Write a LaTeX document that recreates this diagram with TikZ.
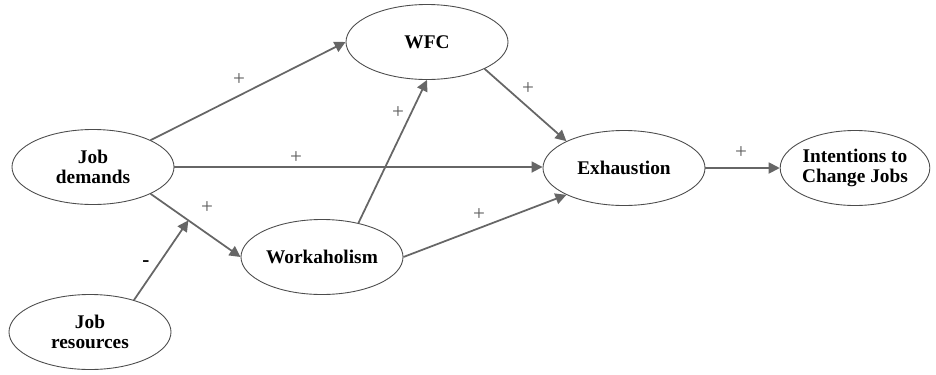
\documentclass[tikz,border=0pt]{standalone}
\usepackage{fontspec}
\setmainfont{Liberation Serif}
\usepackage{tikz}
\usetikzlibrary{shapes.geometric,arrows.meta,calc}

\tikzset{
    var/.style={ellipse,draw=black!70,line width=0.5pt,minimum width=3.24cm,minimum height=1.5cm,
        inner sep=0pt,align=center,font=\bfseries\fontsize{11}{11.6}\selectfont},
    path/.style={draw=black!60,line width=1pt,-{Triangle[length=2.2mm,width=2.2mm]}},
    sign/.style={text=black!65,font=\fontsize{12}{12}\selectfont,inner sep=0pt}
}

\begin{document}
\begin{tikzpicture}[x=0.2mm,y=-0.2mm]
    \useasboundingbox (0,0) rectangle (936,374);

    % variables
    \node[var] (dem) at (93,167) {Job\\demands};
    \node[var] (res) at (90,332) {Job\\resources};
    \node[var] (wfc) at (427,42) {WFC};
    \node[var] (wor) at (322,257) {Workaholism};
    \node[var] (exh) at (624,168) {Exhaustion};
    \node[var,minimum width=2.96cm] (itc) at (855,168) {Intentions to\\Change Jobs};

    % paths
    \draw[path] (dem.north east) -- (wfc.west);
    \draw[path] (dem.east) -- (exh.west |- dem.east);
    \draw[path] (dem.south east) -- (wor.west);
    \coordinate (mod) at ($(dem.south east)!0.42!(wor.west)$);
    \draw[path] (res.36) -- (mod);
    \draw[path] (wor.43) -- (wfc.south);
    \draw[path] (wfc.south east) -- (exh.north west);
    \draw[path] (wor.east) -- (exh.south west);
    \draw[path] (exh.east) -- (itc.west);

    % signs
    \node[sign] (s1) at (239,80) {+};
    \node[sign] (s2) at (296,158) {+};
    \node[sign] (s3) at (207,208) {+};
    \node[sign,text=black,font=\bfseries\fontsize{12}{12}\selectfont] (s4) at (146,264) {-};
    \node[sign] (s5) at (398,113) {+};
    \node[sign] (s6) at (528,89) {+};
    \node[sign] (s7) at (479,215) {+};
    \node[sign] (s8) at (741,153) {+};
\end{tikzpicture}
\end{document}
